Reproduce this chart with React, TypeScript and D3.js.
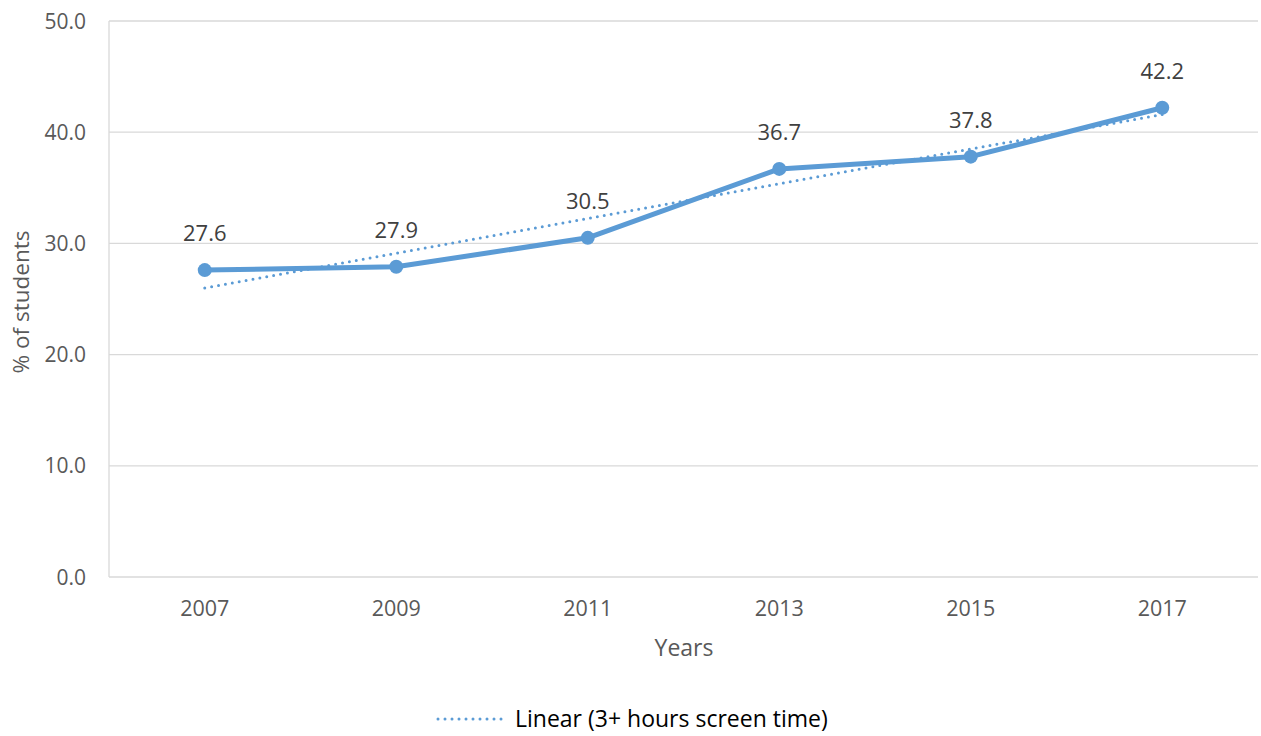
import { scaleBand, scaleLinear, line } from 'd3';

const years = ['2007', '2009', '2011', '2013', '2015', '2017'];
const screenTime = [27.6, 27.9, 30.5, 36.7, 37.8, 42.2];
// linear trendline end points
const trendYears = ['2007', '2017'];
const trendValues = [26.0, 41.6];
const yTicks = [0, 10, 20, 30, 40, 50];

const W = 1261;
const H = 736;
const margin = { top: 21, right: 3, bottom: 159, left: 109 };
const font = '"Open Sans", "Noto Sans", sans-serif';
const blue = '#5B9BD5';

function App(): JSX.Element {
  const x = scaleBand<string>()
    .domain(years)
    .range([margin.left, W - margin.right]);
  const y = scaleLinear()
    .domain([0, 50])
    .range([H - margin.bottom, margin.top]);
  const cx = (d: string) => (x(d) ?? 0) + x.bandwidth() / 2;

  const pts = years.map((d, i) => ({ x: cx(d), y: y(screenTime[i]) }));
  const trendPts = trendYears.map((d, i) => ({ x: cx(d), y: y(trendValues[i]) }));
  const lineGen = line<{ x: number; y: number }>()
    .x((d) => d.x)
    .y((d) => d.y);

  return (
    <div style={{ position: 'absolute', left: 0, top: 0 }}>
      <svg width={W} height={H} style={{ display: 'block', background: '#fff' }} fontFamily={font}>
        {/* gridlines */}
        {yTicks.map((t) => (
          <line
            key={t}
            x1={margin.left}
            x2={W - margin.right}
            y1={y(t)}
            y2={y(t)}
            stroke="#d9d9d9"
            strokeWidth={1.3}
          />
        ))}
        <line
          x1={margin.left}
          x2={margin.left}
          y1={margin.top}
          y2={y(0)}
          stroke="#d9d9d9"
          strokeWidth={1.3}
        />
        {yTicks.map((t) => (
          <text
            key={t}
            x={86}
            y={y(t)}
            dy="0.36em"
            textAnchor="end"
            fontSize={21}
            fill="#595959"
          >
            {t.toFixed(1)}
          </text>
        ))}
        {years.map((d) => (
          <text key={d} x={cx(d)} y={616} textAnchor="middle" fontSize={21.5} fill="#595959">
            {d}
          </text>
        ))}
        <text x={684} y={656} textAnchor="middle" fontSize={23} fill="#595959">
          Years
        </text>
        <text
          transform={`translate(29, 302) rotate(-90)`}
          textAnchor="middle"
          fontSize={22.5}
          fill="#595959"
        >
          % of students
        </text>

        {/* series */}
        <path
          d={lineGen(pts) ?? ''}
          fill="none"
          stroke={blue}
          strokeWidth={5}
          strokeLinejoin="round"
          strokeLinecap="round"
        />
        {pts.map((p, i) => (
          <circle key={i} cx={p.x} cy={p.y} r={7} fill={blue} />
        ))}
        {/* trendline */}
        <path
          d={lineGen(trendPts) ?? ''}
          fill="none"
          stroke={blue}
          strokeWidth={3}
          strokeDasharray="0 7"
          strokeLinecap="round"
        />
        {pts.map((p, i) => (
          <text
            key={i}
            x={p.x}
            y={p.y - 29}
            textAnchor="middle"
            fontSize={22}
            fill="#404040"
          >
            {screenTime[i].toFixed(1)}
          </text>
        ))}

        {/* legend */}
        <line
          x1={438}
          x2={508}
          y1={719}
          y2={719}
          stroke={blue}
          strokeWidth={3}
          strokeDasharray="0 7"
          strokeLinecap="round"
        />
        <text x={515} y={727} fontSize={23} fill="#000">
          Linear (3+ hours screen time)
        </text>
      </svg>
    </div>
  );
}

export default App;
